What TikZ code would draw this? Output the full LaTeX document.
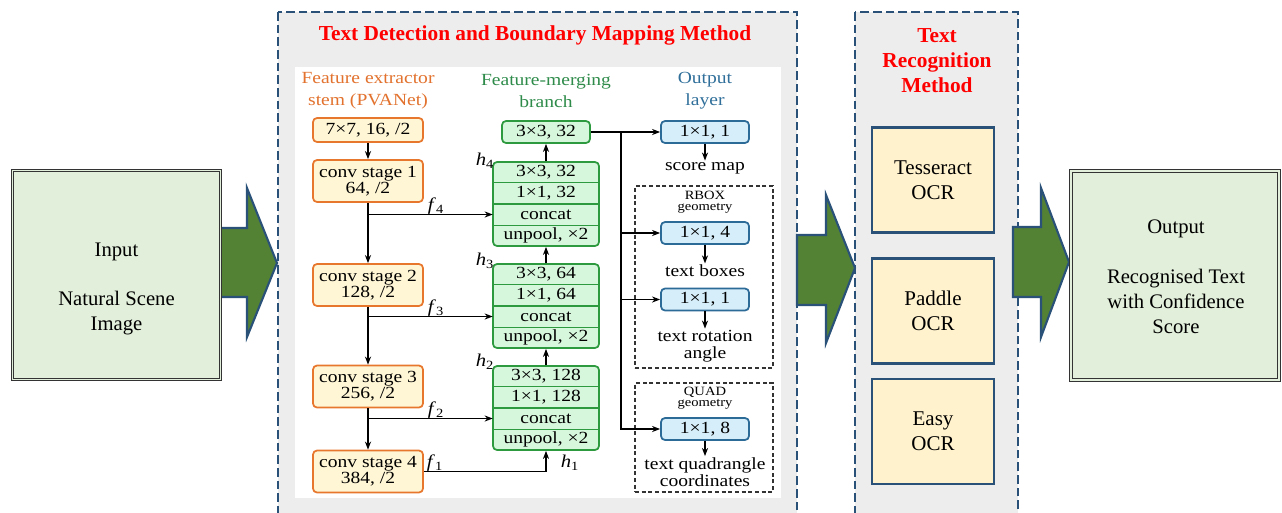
\documentclass[tikz,border=0pt]{standalone}
\usepackage{fontspec}
\setmainfont{Liberation Serif}
\newfontfamily\eastfont{Liberation Serif}[FakeStretch=1.15]
\usetikzlibrary{arrows.meta,calc}

\definecolor{panelgray}{HTML}{EDEDED}
\definecolor{dashblue}{HTML}{2A5279}
\definecolor{arrowgreen}{HTML}{548235}
\definecolor{iogreen}{HTML}{E2EFDA}
\definecolor{ocrfill}{HTML}{FFF2CC}
\definecolor{stemtext}{HTML}{E2722E}
\definecolor{stemfill}{HTML}{FFF6D5}
\definecolor{stemdraw}{HTML}{E8772E}
\definecolor{mergetext}{HTML}{2E8B4A}
\definecolor{mergefill}{HTML}{D7F7DC}
\definecolor{mergedraw}{HTML}{2E9A40}
\definecolor{outtext}{HTML}{2F6F9A}
\definecolor{outfill}{HTML}{D6EEF9}
\definecolor{outdraw}{HTML}{2C6A98}

\tikzset{
  panel/.style={fill=panelgray, draw=dashblue, line width=2pt, dash pattern=on 6.5pt off 3pt},
  maintitle/.style={text=red, font=\bfseries\fontsize{16}{18.75}\selectfont, align=center, inner sep=0pt},
  ocrbox/.style={draw=dashblue, line width=1.8pt, fill=ocrfill, minimum width=91.5pt,
    minimum height=78.75pt, align=center, font=\fontsize{15.75}{18.75}\selectfont},
  iobox/.style={draw=black!80, line width=0.7pt, double=iogreen, double distance=1.2pt,
    fill=iogreen, minimum width=156pt, minimum height=157pt},
  iotext/.style={align=center, inner sep=0pt, font=\fontsize{15.5}{19}\selectfont},
  blockarrow/.style={fill=arrowgreen, draw=dashblue, line width=1.6pt, line join=miter},
  hdr/.style={align=center, inner sep=0pt, font=\eastfont\fontsize{12.75}{16.5}\selectfont},
  stembox/.style={draw=stemdraw, fill=stemfill, rounded corners=3pt, line width=1.3pt,
    minimum width=82.5pt, align=center, inner sep=0pt,
    font=\eastfont\fontsize{12.75}{12}\selectfont},
  mergebox/.style={draw=mergedraw, fill=mergefill, rounded corners=3pt, line width=1.3pt,
    minimum width=66pt, minimum height=16.5pt, inner sep=0pt,
    font=\eastfont\fontsize{12.75}{12}\selectfont},
  mstack/.style={draw=mergedraw, fill=mergefill, rounded corners=3pt, line width=1.3pt,
    minimum width=79.5pt, minimum height=63pt, inner sep=0pt},
  mrow/.style={minimum width=79.5pt, minimum height=15.75pt, inner sep=0pt,
    font=\eastfont\fontsize{12.75}{12}\selectfont},
  outbox/.style={draw=outdraw, fill=outfill, rounded corners=3pt, line width=1.3pt,
    minimum width=66pt, minimum height=16.5pt, inner sep=0pt,
    font=\eastfont\fontsize{12.75}{12}\selectfont},
  lbl/.style={align=center, inner sep=1pt, font=\eastfont\fontsize{12.75}{12.5}\selectfont},
  small/.style={align=center, inner sep=0pt, font=\eastfont\fontsize{9.5}{8}\selectfont},
  grpbox/.style={draw=black!80, line width=0.8pt, dash pattern=on 3pt off 2pt},
  conn/.style={line width=1.2pt, -{Stealth[length=6pt,width=4.5pt,inset=1.8pt]}},
  wire/.style={line width=1.2pt},
  idx/.style={inner sep=0pt, font=\eastfont\fontsize{13.5}{12}\selectfont},
}

\begin{document}
\begin{tikzpicture}[x=0.75pt,y=-0.75pt]
\useasboundingbox (0,0) rectangle (1282,512);
\clip (0,0) rectangle (1282,512);

% ---- panels ----
\draw[panel] (278,12) rectangle (797,540);
\draw[panel] (855,12) rectangle (1018,540);
\fill[white] (295,67) rectangle (781,498);

\node[maintitle] (dettitle) at (535,35) {Text Detection and Boundary Mapping Method};
\node[maintitle] (rectitle) at (937,61) {Text\\Recognition\\Method};

% ---- block arrows between the stages ----
\draw[blockarrow] (220,228) -- (247,228) -- (247,188) -- (277,263) -- (247,337) -- (247,297) -- (220,297) -- cycle;
\draw[blockarrow] (797,235) -- (826,235) -- (826,195) -- (855,268) -- (826,343) -- (826,305) -- (797,305) -- cycle;
\draw[blockarrow] (1013,227) -- (1041,227) -- (1041,188) -- (1069,262) -- (1041,337) -- (1041,297) -- (1013,297) -- cycle;

% ---- input / output ----
\node[iobox] (input) at (116.5,275) {};
\node[iotext] (inputtext) at (116.5,289) {Input\\[18pt]Natural Scene\\Image};
\node[iobox] (output) at (1175,275.5) {};
\node[iotext] (outputtext) at (1176,277) {Output\\[18pt]Recognised Text\\with Confidence\\Score};

% ---- OCR engines ----
\node[ocrbox] (tess) at (933,180) {Tesseract\\OCR};
\node[ocrbox] (paddle) at (933,311) {Paddle\\OCR};
\node[ocrbox] (easy) at (933,431.5) {Easy\\OCR};

% ---- column headers ----
\node[hdr, text=stemtext] (stemhdr) at (368,91) {Feature extractor\\stem (PVANet)};
\node[hdr, text=mergetext] (mergehdr) at (546,91) {Feature-merging\\branch};
\node[hdr, text=outtext] (outhdr) at (705,91) {Output\\layer};

% ---- feature extractor stem ----
\node[stembox, minimum height=18pt] (s0) at (368,130) {7×7, 16, /2};
\node[stembox, minimum height=31.5pt] (s1) at (368,181) {conv stage 1\\64, /2};
\node[stembox, minimum height=31.5pt] (s2) at (368,285) {conv stage 2\\128, /2};
\node[stembox, minimum height=31.5pt] (s3) at (368,386.5) {conv stage 3\\256, /2};
\node[stembox, minimum height=31.5pt] (s4) at (368,471.5) {conv stage 4\\384, /2};

% ---- feature-merging branch ----
\node[mergebox] (m0) at (546,132) {3×3, 32};
\foreach \nm/\cy/\ch in {h4s/204/32, h3s/306/64, h2s/408/128}{
  \node[mstack] (\nm) at (546,\cy) {};
  \node[mrow] (\nm-r1) at (546,\cy-31.5) {3×3, \ch};
  \node[mrow] (\nm-r2) at (546,\cy-10.5) {1×1, \ch};
  \node[mrow] (\nm-r3) at (546,\cy+10.5) {concat};
  \node[mrow] (\nm-r4) at (546,\cy+31.5) {unpool, ×2};
  \foreach \f in {0.25,0.5,0.75}
    \draw[mergedraw, line width=1pt] ($(\nm.north west)!\f!(\nm.south west)$) -- ($(\nm.north east)!\f!(\nm.south east)$);
}

% stem connectors
\draw[conn] (s0) -- (s1);
\draw[conn] (s1) -- (s2);
\draw[conn] (s2) -- (s3);
\draw[conn] (s3) -- (s4);
\draw[conn] (s1.south |- h4s-r3.west) -- (h4s-r3.west);
\draw[conn] (s2.south |- h3s-r3.west) -- (h3s-r3.west);
\draw[conn] (s3.south |- h2s-r3.west) -- (h2s-r3.west);
\draw[conn] (s4.east) -| (h2s.south);
\draw[conn] (h2s.north) -- (h3s.south);
\draw[conn] (h3s.north) -- (h4s.south);
\draw[conn] (h4s.north) -- (m0.south);

% feature and merge indices
\node[idx] (f4) at (436,206) {\textit{f}\textsubscript{4}};
\node[idx] (f3) at (436,308) {\textit{f}\textsubscript{3}};
\node[idx] (f2) at (436,410) {\textit{f}\textsubscript{2}};
\node[idx] (f1) at (435,463) {\textit{f}\textsubscript{1}};
\node[idx] (h4) at (485,161) {\textit{h}\textsubscript{4}};
\node[idx] (h3) at (485,261) {\textit{h}\textsubscript{3}};
\node[idx] (h2) at (485,362) {\textit{h}\textsubscript{2}};
\node[idx] (h1) at (570,463) {\textit{h}\textsubscript{1}};

% ---- output layer ----
\node[grpbox, minimum width=103.5pt, minimum height=136.5pt] (rboxgrp) at (704,277) {};
\node[grpbox, minimum width=103.5pt, minimum height=81.75pt] (quadgrp) at (704,437.5) {};
\node[small] (rboxlbl) at (705,202) {RBOX\\geometry};
\node[small] (quadlbl) at (705,398) {QUAD\\geometry};

\node[outbox] (o1) at (705,132) {1×1, 1};
\node[outbox] (o2) at (705,233) {1×1, 4};
\node[outbox] (o3) at (705,299.5) {1×1, 1};
\node[outbox] (o4) at (705,429) {1×1, 8};

\coordinate (jn) at (621,132);
\draw[wire] (m0.east) -- (jn);
\draw[conn] (jn) -- (o1.west);
\draw[conn] (jn) |- (o4.west);
\draw[conn] (jn |- o2.west) -- (o2.west);
\draw[conn] (jn |- o3.west) -- (o3.west);

\node[lbl] (scoremap) at (705,168) {score map};
\node[lbl] (textboxes) at (705,271) {text boxes};
\node[lbl] (rotation) at (705,346) {text rotation\\angle};
\node[lbl] (quadcoords) at (705,472) {text quadrangle\\coordinates};
\draw[conn] (o1.south) -- (scoremap.north);
\draw[conn] (o2.south) -- (textboxes.north);
\draw[conn] (o3.south) -- (rotation.north);
\draw[conn] (o4.south) -- (quadcoords.north);
\end{tikzpicture}
\end{document}
